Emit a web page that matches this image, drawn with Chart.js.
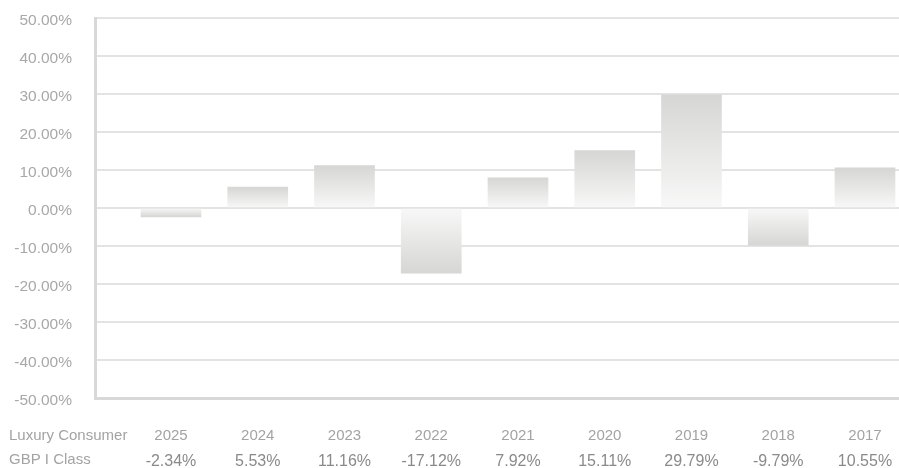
<!DOCTYPE html>
<html>
<head>
<meta charset="utf-8">
<script src="https://cdn.jsdelivr.net/npm/chart.js@4/dist/chart.umd.min.js"></script>
<style>
  html, body { margin: 0; padding: 0; background: #ffffff; }
  #wrap { position: relative; width: 899px; height: 468px; }
</style>
</head>
<body>
<div id="wrap"><canvas id="c"></canvas></div>
<script>
const categories = ['2025', '2024', '2023', '2022', '2021', '2020', '2019', '2018', '2017'];
const returns = [-2.34, 5.53, 11.16, -17.12, 7.92, 15.11, 29.79, -9.79, 10.55];
const valueLabels = ['-2.34%', '5.53%', '11.16%', '-17.12%', '7.92%', '15.11%', '29.79%', '-9.79%', '10.55%'];
const rowLabels = ['Luxury Consumer', 'GBP I Class'];
const yTickValues = [-50, -40, -30, -20, -10, 0, 10, 20, 30, 40, 50];

const FONT = '"Liberation Sans", Arial, Helvetica, sans-serif';

const tablePlugin = {
  id: 'tableRows',
  afterDraw(chart) {
    const ctx = chart.ctx;
    const x = chart.scales.x;
    ctx.save();
    ctx.textBaseline = 'middle';
    ctx.textAlign = 'left';
    ctx.fillStyle = '#a3a3a3';
    ctx.font = '15px ' + FONT;
    ctx.fillText(rowLabels[0], 9, 436);
    ctx.fillText(rowLabels[1], 9, 460);
    ctx.textAlign = 'center';
    categories.forEach((c, i) => {
      ctx.fillStyle = '#a3a3a3';
      ctx.font = '15px ' + FONT;
      ctx.fillText(c, x.getPixelForValue(i), 436);
      ctx.fillStyle = '#8a8a8a';
      ctx.font = '16px ' + FONT;
      ctx.fillText(valueLabels[i], x.getPixelForValue(i), 462);
    });
    ctx.restore();
  }
};

function barGradient(context) {
  const chart = context.chart;
  if (!chart.chartArea || !context.parsed) return '#e6e6e6';
  const y = chart.scales.y;
  const y0 = y.getPixelForValue(0);
  const y1 = y.getPixelForValue(context.parsed.y);
  if (y0 === y1) return '#f8f8f8';
  const g = chart.ctx.createLinearGradient(0, y0, 0, y1);
  g.addColorStop(0, '#f8f8f8');
  g.addColorStop(1, '#d6d6d4');
  return g;
}

new Chart(document.getElementById('c'), {
  type: 'bar',
  data: {
    datasets: [{
      data: returns.map((v, i) => ({ x: i, y: v })),
      backgroundColor: barGradient,
      borderWidth: 0,
      barThickness: 60
    }]
  },
  options: {
    responsive: true,
    maintainAspectRatio: false,
    animation: false,
    layout: { padding: { top: 18, left: 0, right: 0, bottom: 0 } },
    plugins: { legend: { display: false }, tooltip: { enabled: false } },
    scales: {
      x: {
        type: 'linear',
        offset: false,
        min: -0.876,
        max: 8.392,
        grid: { display: false, drawTicks: false, offset: false },
        border: { display: true, color: '#d8d8d8', width: 3 },
        ticks: { display: false },
        afterFit(scale) { scale.height = 70; scale.paddingLeft = 0; scale.paddingRight = 0; }
      },
      y: {
        min: -50,
        max: 50,
        afterBuildTicks(scale) { scale.ticks = yTickValues.map(v => ({ value: v })); },
        grid: { color: '#e3e3e3', lineWidth: 2, drawTicks: false },
        border: { display: true, color: '#d8d8d8', width: 3 },
        ticks: {
          padding: 23,
          labelOffset: 3,
          color: '#a8a8a8',
          font: { family: FONT, size: 15.5 },
          callback: v => v.toFixed(2) + '%'
        },
        afterFit(scale) { scale.width = 95; scale.paddingTop = 0; scale.paddingBottom = 0; }
      }
    }
  },
  plugins: [tablePlugin]
});
</script>
</body>
</html>
